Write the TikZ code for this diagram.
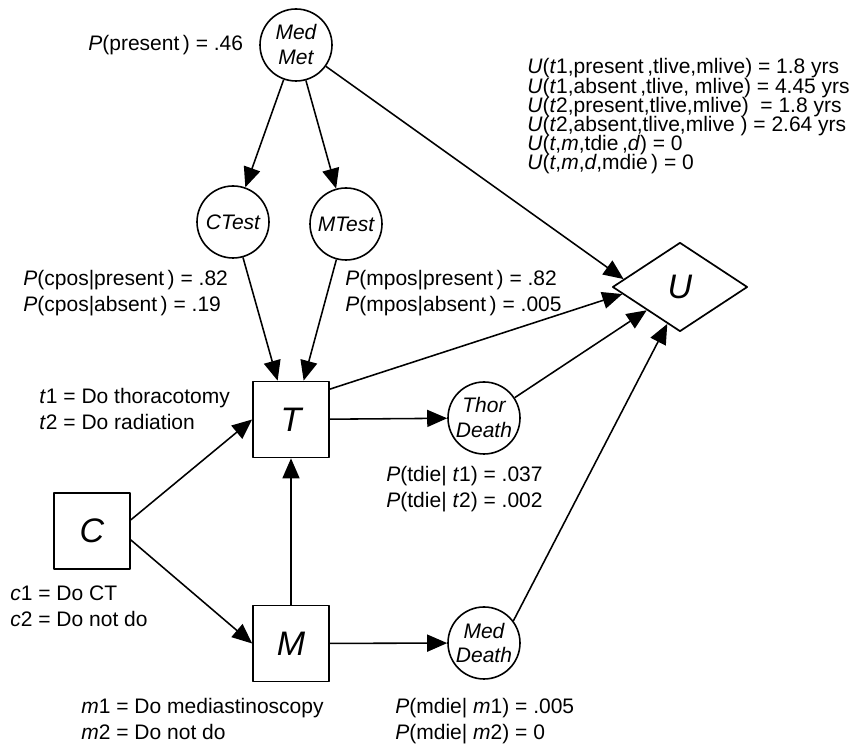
\documentclass[tikz,border=0pt]{standalone}
\usepackage{fontspec}
\setmainfont{Liberation Sans}
\usetikzlibrary{arrows.meta,shapes.geometric}

\begin{document}
\begin{tikzpicture}[x=0.5pt, y=-0.5pt, >={Triangle[length=10pt,width=8.5pt]}, line join=round,
  chance/.style={circle, draw, line width=0.8pt, minimum size=36pt, inner sep=0pt, align=center,
    font=\fontsize{10.5}{12.5}\selectfont\itshape},
  dec/.style={rectangle, draw, line width=0.85pt, minimum size=38pt, inner sep=0pt,
    font=\fontsize{17}{20}\selectfont\itshape},
  util/.style={diamond, draw, line width=0.85pt, minimum width=67.5pt, minimum height=44.5pt,
    inner sep=0pt, font=\fontsize{17}{20}\selectfont\itshape},
  arr/.style={->, line width=0.78pt},
  lbl/.style={anchor=west, inner sep=0pt, align=left, font=\fontsize{10.5}{13}\selectfont}]
  \useasboundingbox (0,0) rectangle (853,747);
  % nodes of the diagram
  \node[chance] (MedMet) at (296,45) {Med\\Met};
  \node[chance] (CTest) at (233,222) {CTest};
  \node[chance] (MTest) at (346,224) {MTest};
  \node[dec] (T) at (291,419.5) {T};
  \node[dec] (C) at (92,531) {C};
  \node[dec] (M) at (291,643.5) {M};
  \node[chance] (ThorDeath) at (484,418) {Thor\\Death};
  \node[chance] (MedDeath) at (484,643) {Med\\Death};
  \node[util] (U) at (680,287) {U};
  % arcs
  \draw[arr] (MedMet) -- (CTest);
  \draw[arr] (MedMet) -- (MTest);
  \draw[arr] (MedMet) -- (U.172);
  \draw[arr] (CTest) -- (T.109);
  \draw[arr] (MTest) -- (T.72);
  \draw[arr] (C.16) -- (T.west);
  \draw[arr] (C.347) -- (M.west);
  \draw[arr] (M) -- (T);
  \draw[arr] (T) -- (ThorDeath);
  \draw[arr] (M) -- (MedDeath);
  \draw[arr] (T.38) -- (U.187);
  \draw[arr] (ThorDeath) -- (U.215);
  \draw[arr] (MedDeath.37) -- (U.251);
  % tables
  \node[lbl] (lPres) at (88,45) {\textit{P}(present\,) = .46};
  \node[lbl, font={\fontsize{10.5}{9.6}\selectfont\lineskiplimit-5pt\relax}] (lUtil) at (527,116.5)
    {\textit{U}(\textit{t}1,present\,,tlive,mlive) = 1.8 yrs\\
     \textit{U}(\textit{t}1,absent\,,tlive, mlive) = 4.45 yrs\\
     \textit{U}(\textit{t}2,present,tlive,mlive)\ \ = 1.8 yrs\\
     \textit{U}(\textit{t}2,absent,tlive,mlive\ ) = 2.64 yrs\\
     \textit{U}(\textit{t},\textit{m},tdie\,,\textit{d}) = 0\\
     \textit{U}(\textit{t},\textit{m},\textit{d},mdie\,) = 0};
  \node[lbl] (lCpos) at (23,293) {\textit{P}(cpos|present\,) = .82\\ \textit{P}(cpos|absent\,) = .19};
  \node[lbl] (lMpos) at (345,293) {\textit{P}(mpos|present\,) = .82\\ \textit{P}(mpos|absent\,) = .005};
  \node[lbl] (lTopt) at (39,409) {\textit{t}1 = Do thoracotomy\\ \textit{t}2 = Do radiation};
  \node[lbl] (lTdie) at (386,489.5) {\textit{P}(tdie| \textit{t}1) = .037\\ \textit{P}(tdie| \textit{t}2) = .002};
  \node[lbl] (lCopt) at (10,606) {\textit{c}1 = Do CT\\ \textit{c}2 = Do not do};
  \node[lbl] (lMopt) at (81,719) {\textit{m}1 = Do mediastinoscopy\\ \textit{m}2 = Do not do};
  \node[lbl] (lMdie) at (395,721) {\textit{P}(mdie| \textit{m}1) = .005\\ \textit{P}(mdie| \textit{m}2) = 0};
\end{tikzpicture}
\end{document}
